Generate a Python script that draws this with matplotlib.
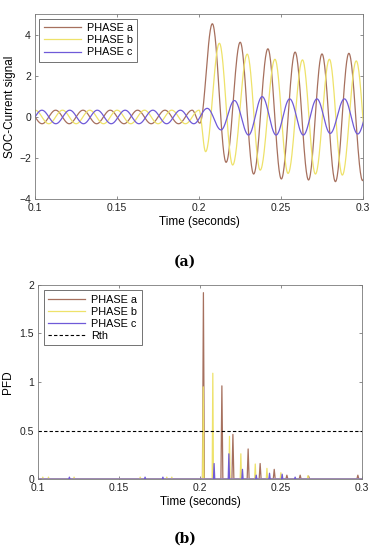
import numpy as np
import matplotlib
matplotlib.use("Agg")
import matplotlib.pyplot as plt

plt.rcParams['font.family'] = ['Liberation Sans', 'DejaVu Sans']

# ---------------- data: (a) SOC-current waveform extrema ----------------
labels = ["PHASE a", "PHASE b", "PHASE c"]

a_t = [0.0958, 0.1042, 0.1125, 0.1208, 0.1292, 0.1375, 0.1458, 0.1542, 0.1625, 0.1708,
       0.1792, 0.1875, 0.1958, 0.2005, 0.2081, 0.2165, 0.2251, 0.2333, 0.2420, 0.2502,
       0.2586, 0.2668, 0.2750, 0.2832, 0.2914, 0.2998, 0.3080]
a_v = [0.33, -0.33, 0.33, -0.33, 0.33, -0.33, 0.33, -0.33, 0.33, -0.33,
       0.33, -0.33, 0.33, -0.30, 4.54, -2.21, 3.64, -2.78, 3.32, -3.02,
       3.16, -3.07, 3.07, -3.15, 3.10, -3.10, 3.10]

b_t = [0.0917, 0.1000, 0.1083, 0.1167, 0.1250, 0.1333, 0.1417, 0.1500, 0.1583, 0.1667,
       0.1750, 0.1833, 0.1917, 0.2000, 0.2040, 0.2124, 0.2205, 0.2294, 0.2373, 0.2463,
       0.2543, 0.2631, 0.2710, 0.2795, 0.2874, 0.2959, 0.3040]
b_v = [-0.33, 0.33, -0.33, 0.33, -0.33, 0.33, -0.33, 0.33, -0.33, 0.33,
       -0.33, 0.33, -0.33, 0.33, -1.69, 3.59, -2.34, 3.06, -2.59, 2.81,
       -2.75, 2.78, -2.78, 2.81, -2.83, 2.73, -2.80]

c_t = [0.0958, 0.1041, 0.1126, 0.1211, 0.1295, 0.1379, 0.1464, 0.1549, 0.1633, 0.1718,
       0.1802, 0.1886, 0.1968, 0.2050, 0.2134, 0.2216, 0.2302, 0.2385, 0.2470, 0.2553,
       0.2636, 0.2719, 0.2800, 0.2887, 0.2968, 0.3053]
c_v = [-0.33, 0.33, -0.33, 0.33, -0.33, 0.33, -0.33, 0.33, -0.33, 0.33,
       -0.33, 0.33, -0.33, 0.42, -0.63, 0.80, -0.88, 0.99, -0.88, 0.88,
       -0.88, 0.88, -0.80, 0.88, -0.83, 0.85]

# ---------------- data: (b) PFD spikes ----------------
pa_t = [0.2020, 0.2134, 0.2202, 0.2296, 0.2370, 0.2457, 0.2535, 0.2617, 0.2669, 0.2973]
pa_v = [1.92, 0.96, 0.46, 0.31, 0.16, 0.10, 0.04, 0.04, 0.03, 0.04]

pb_t = [0.1029, 0.1064, 0.1222, 0.1630, 0.1794, 0.1825,
        0.2019, 0.2078, 0.2181, 0.2251, 0.2340, 0.2412, 0.2498, 0.2665]
pb_v = [0.02, 0.02, 0.02, 0.02, 0.02, 0.02,
        0.95, 1.09, 0.44, 0.26, 0.155, 0.11, 0.065, 0.035]

pc_t = [0.1193, 0.1660, 0.1770,
        0.2086, 0.2177, 0.2261, 0.2346, 0.2428, 0.2506, 0.2586]
pc_v = [0.02, 0.02, 0.02,
        0.16, 0.26, 0.10, 0.04, 0.06, 0.05, 0.02]

rth = 0.5

x_ticks = [0.1, 0.15, 0.2, 0.25, 0.3]
x_ticklabels = ["0.1", "0.15", "0.2", "0.25", "0.3"]
top_yticks = [-4, -2, 0, 2, 4]
bot_yticks = [0, 0.5, 1, 1.5, 2]
bot_yticklabels = ["0", "0.5", "1", "1.5", "2"]

colors = ["#A6705E", "#EEE26A", "#6F5AD8"]


def smooth_wave(tt, vv, n=30):
    """Connect successive extrema with half-cosine segments."""
    xs, ys = [], []
    for i in range(len(tt) - 1):
        s = np.linspace(0, 1, n, endpoint=False)
        xs.append(tt[i] + (tt[i + 1] - tt[i]) * s)
        ys.append(vv[i] + (vv[i + 1] - vv[i]) * (1 - np.cos(np.pi * s)) / 2)
    xs.append([tt[-1]])
    ys.append([vv[-1]])
    return np.concatenate(xs), np.concatenate(ys)


def spikes(tt, vv, w, t0=0.1, t1=0.3):
    xs, ys = [t0], [0.0]
    for t, v in sorted(zip(tt, vv)):
        xs += [t - w, t, t + w]
        ys += [0.0, v, 0.0]
    xs.append(t1)
    ys.append(0.0)
    return xs, ys


fig = plt.figure(figsize=(3.7, 5.5), dpi=100)

spine_col = "#7a7a7a"
tick_fs = 7.5


def style(ax):
    for s in ax.spines.values():
        s.set_color(spine_col)
        s.set_linewidth(0.6)
    ax.tick_params(direction="in", top=True, right=True, length=2.5, width=0.6,
                   colors=spine_col, labelcolor="#222222", labelsize=tick_fs, pad=3)
    ax.set_xlim(0.1, 0.3)
    ax.set_xticks(x_ticks)
    ax.set_xticklabels(x_ticklabels)


# ---- (a)
ax1 = fig.add_axes([0.095, 0.638, 0.886, 0.336])
for (tt, vv), col, lab in zip([(a_t, a_v), (b_t, b_v), (c_t, c_v)], colors, labels):
    x, y = smooth_wave(tt, vv)
    ax1.plot(x, y, color=col, lw=0.9, label=lab)
style(ax1)
ax1.set_ylim(-4, 5)
ax1.set_yticks(top_yticks)
ax1.set_ylabel("SOC-Current signal", fontsize=8.5, labelpad=2)
ax1.set_xlabel("Time (seconds)", fontsize=8.5, labelpad=2)
leg1 = ax1.legend(loc="upper left", fontsize=7.8, frameon=True, fancybox=False,
                  edgecolor="#333333", handlelength=3.4, borderpad=0.4,
                  labelspacing=0.2, handletextpad=0.6, borderaxespad=0.4)
leg1.get_frame().set_linewidth(0.6)

# ---- (b)
ax2 = fig.add_axes([0.103, 0.129, 0.876, 0.353])
widths = [0.0006, 0.0004, 0.0004]
for (tt, vv), col, lab, w in zip([(pa_t, pa_v), (pb_t, pb_v), (pc_t, pc_v)], colors, labels, widths):
    x, y = spikes(tt, vv, w)
    ax2.plot(x, y, color=col, lw=0.9, label=lab)
ax2.axhline(rth, color="black", ls=(0, (3, 2)), lw=0.8, label="Rth")
style(ax2)
ax2.set_ylim(0, 2)
ax2.set_yticks(bot_yticks)
ax2.set_yticklabels(bot_yticklabels)
ax2.set_ylabel("PFD", fontsize=8.5, labelpad=4)
ax2.set_xlabel("Time (seconds)", fontsize=8.5, labelpad=2)
leg2 = ax2.legend(loc="upper left", fontsize=7.8, frameon=True, fancybox=False,
                  edgecolor="#333333", handlelength=3.4, borderpad=0.4,
                  labelspacing=0.2, handletextpad=0.6, borderaxespad=0.5)
leg2.get_frame().set_linewidth(0.6)

fig.text(0.5, 0.525, "(a)", ha="center", va="center", fontsize=10,
         fontweight="bold", family=["DejaVu Serif"])
fig.text(0.5, 0.02, "(b)", ha="center", va="center", fontsize=10,
         fontweight="bold", family=["DejaVu Serif"])

fig.savefig("out.png", dpi=100)
